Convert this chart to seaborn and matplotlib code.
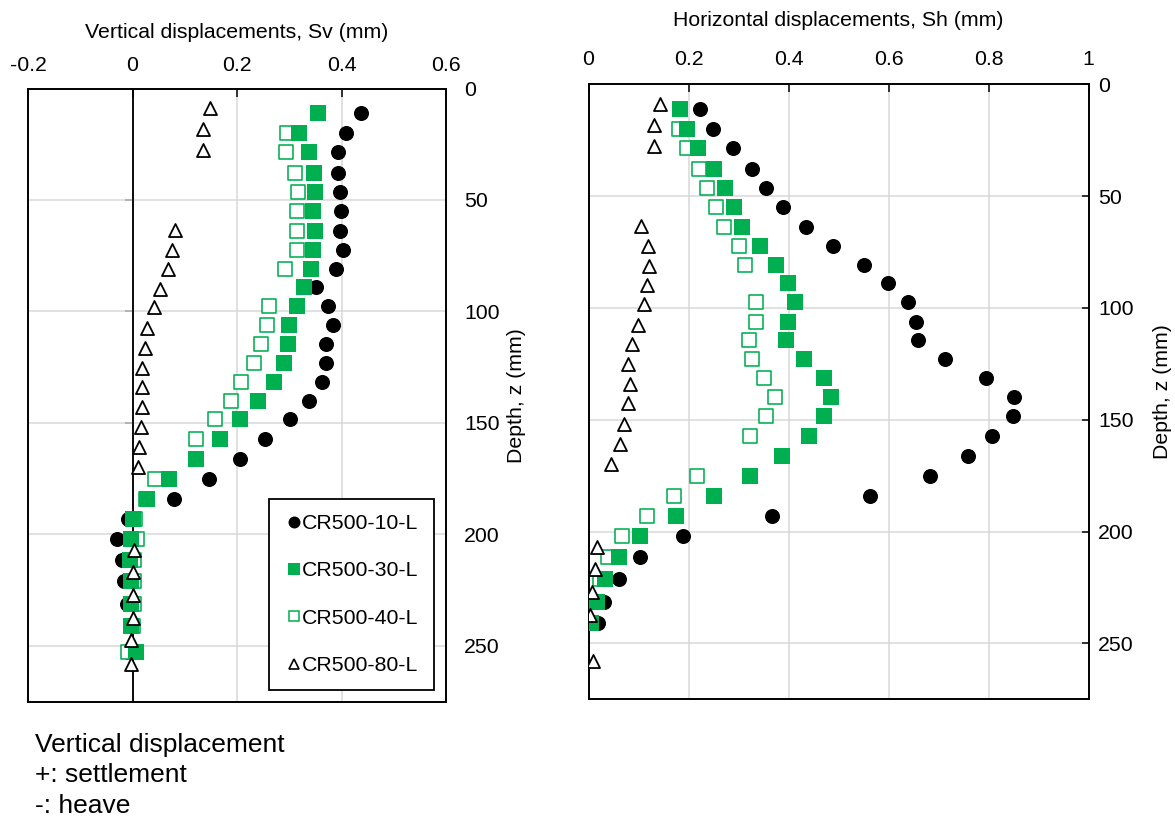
import numpy as np
import matplotlib
matplotlib.use("Agg")
import matplotlib.pyplot as plt
from matplotlib.lines import Line2D
import seaborn as sns

# ---------------------------------------------------------------- data
series_names = ["CR500-10-L", "CR500-30-L", "CR500-40-L", "CR500-80-L"]

# measurement depths (mm) for the 10-L, 30-L and 40-L profiles
depth = [11.0, 20.0, 28.7, 37.7, 46.4, 55.0, 63.7, 72.3, 80.8, 89.1,
         97.5, 106.1, 114.4, 123.0, 131.5, 140.0, 148.4, 157.2, 166.2, 175.2,
         184.2, 193.1, 202.2, 211.5, 221.0, 231.4, 241.0, 252.7]
# measurement depths (mm) for the 80-L profile
depth_80 = [8.8, 18.2, 27.5, 63.4, 72.4, 81.1, 89.9, 98.1, 107.5, 116.2,
            125.2, 134.0, 142.7, 151.7, 160.7, 169.7, 207.0, 216.8, 227.0, 237.3,
            247.4, 257.9]

nan = np.nan

# vertical displacements Sv (mm), + settlement / - heave
sv_10 = [0.438, 0.408, 0.393, 0.394, 0.397, 0.399, 0.397, 0.402, 0.389, 0.352,
         0.374, 0.384, 0.370, 0.370, 0.362, 0.338, 0.301, 0.253, 0.205, 0.146,
         0.080, -0.008, -0.029, -0.021, -0.016, -0.011, -0.005, -0.008]
sv_30 = [0.355, 0.319, 0.337, 0.347, 0.349, 0.346, 0.350, 0.345, 0.341, 0.329,
         0.315, 0.299, 0.297, 0.290, 0.270, 0.241, 0.206, 0.168, 0.121, 0.070,
         0.027, 0.000, -0.002, -0.004, -0.003, -0.002, -0.003, 0.006]
sv_40 = [nan, 0.295, 0.293, 0.311, 0.317, 0.315, 0.315, 0.315, 0.291, nan,
         0.262, 0.257, 0.246, 0.232, 0.207, 0.189, 0.158, 0.121, nan, 0.043,
         0.025, 0.004, 0.008, 0.003, 0.003, 0.003, 0.001, -0.008]
sv_80 = [0.148, 0.134, 0.134, 0.081, 0.076, 0.068, 0.053, 0.041, 0.027, 0.024,
         0.018, 0.018, 0.019, 0.016, 0.013, 0.011, 0.002, 0.001, 0.001, 0.001,
         -0.002, -0.002]

# horizontal displacements Sh (mm)
sh_10 = [0.222, 0.248, 0.288, 0.326, 0.354, 0.389, 0.434, 0.489, 0.550, 0.599,
         0.638, 0.654, 0.659, 0.712, 0.794, 0.850, 0.849, 0.806, 0.758, 0.683,
         0.562, 0.366, 0.188, 0.102, 0.060, 0.031, 0.018, nan]
sh_30 = [0.182, 0.196, 0.218, 0.250, 0.273, 0.290, 0.307, 0.343, 0.374, 0.398,
         0.412, 0.399, 0.394, 0.430, 0.471, 0.485, 0.470, 0.440, 0.387, 0.322,
         0.251, 0.174, 0.102, 0.060, 0.032, 0.016, 0.005, nan]
sh_40 = [nan, 0.180, 0.196, 0.220, 0.236, 0.254, 0.271, 0.300, 0.312, nan,
         0.334, 0.334, 0.320, 0.326, 0.350, 0.372, 0.355, 0.322, nan, 0.217,
         0.171, 0.116, 0.066, 0.038, 0.023, nan, nan, nan]
sh_80 = [0.143, 0.130, 0.130, 0.105, 0.118, 0.120, 0.117, 0.110, 0.098, 0.086,
         0.079, 0.083, 0.079, 0.070, 0.062, 0.044, 0.016, 0.012, 0.006, 0.003,
         nan, 0.009]

sv_ticks = [-0.2, 0, 0.2, 0.4, 0.6]
sv_tick_labels = ["-0.2", "0", "0.2", "0.4", "0.6"]
sh_ticks = [0, 0.2, 0.4, 0.6, 0.8, 1.0]
sh_tick_labels = ["0", "0.2", "0.4", "0.6", "0.8", "1"]
depth_ticks = [0, 50, 100, 150, 200, 250]

# ---------------------------------------------------------------- style
GREEN = "#00B050"
GRID = "#D9D9D9"
FS = 15.3

sns.set_theme(style="white")
plt.rcParams["font.family"] = ["Liberation Sans", "DejaVu Sans"]
plt.rcParams["text.color"] = "black"

W, H = 1175, 823
fig = plt.figure(figsize=(W / 100, H / 100), dpi=100)
fig.patch.set_facecolor("white")


def px_axes(x0, y0, x1, y1):
    """Axes placed by pixel box (left, top, right, bottom)."""
    return fig.add_axes([x0 / W, 1 - y1 / H, (x1 - x0) / W, (y1 - y0) / H])


ax_v = px_axes(28, 88.5, 446, 701.7)
ax_h = px_axes(588.5, 84.2, 1088.5, 699.3)

marker_styles = {
    "CR500-10-L": dict(marker="o", s=117, color="black", edgecolor="black",
                       linewidth=0, zorder=3),
    "CR500-40-L": dict(marker="s", s=88, color="white", edgecolor=GREEN,
                       linewidth=1.15, zorder=4),
    "CR500-30-L": dict(marker="s", s=121, color=GREEN, edgecolor=GREEN,
                       linewidth=0, zorder=5),
    "CR500-80-L": dict(marker="^", s=88, color="white", edgecolor="black",
                       linewidth=1.3, zorder=6),
}

sv_data = {"CR500-10-L": (sv_10, depth), "CR500-30-L": (sv_30, depth),
           "CR500-40-L": (sv_40, depth), "CR500-80-L": (sv_80, depth_80)}
sh_data = {"CR500-10-L": (sh_10, depth), "CR500-30-L": (sh_30, depth),
           "CR500-40-L": (sh_40, depth), "CR500-80-L": (sh_80, depth_80)}

draw_order = ["CR500-10-L", "CR500-40-L", "CR500-30-L", "CR500-80-L"]
for ax, data in ((ax_v, sv_data), (ax_h, sh_data)):
    for name in draw_order:
        xs, ys = data[name]
        sns.scatterplot(x=xs, y=ys, ax=ax, legend=False, **marker_styles[name])

# ---------------------------------------------------------------- axes styling
for ax in (ax_v, ax_h):
    ax.set_ylim(275, 0)
    ax.set_yticks(depth_ticks)
    ax.grid(True, color=GRID, linewidth=1.1)
    ax.set_axisbelow(True)
    for sp in ax.spines.values():
        sp.set_visible(True)
        sp.set_color("black")
        sp.set_linewidth(1.4)
    ax.xaxis.tick_top()
    ax.xaxis.set_label_position("top")
    ax.yaxis.tick_right()
    ax.yaxis.set_label_position("right")
    ax.set_facecolor("white")

ax_v.set_xlim(-0.2, 0.6)
ax_v.set_xticks(sv_ticks, sv_tick_labels)
ax_v.tick_params(axis="x", direction="in", length=6, width=1.1,
                 color="black", labelsize=FS, pad=10, labelcolor="black")
ax_v.tick_params(axis="y", length=0, labelsize=FS, pad=13, labelcolor="black")
ax_v.set_xlabel("Vertical displacements, Sv (mm)", fontsize=FS, labelpad=13,
                color="black")
ax_v.set_ylabel("Depth, z (mm)", fontsize=FS, labelpad=5, color="black")

# vertical axis line through Sv = 0 with outward ticks
ax_v.axvline(0, color="black", linewidth=1.3, zorder=1)
zero_axis = ax_v.secondary_yaxis(0.25)
zero_axis.set_yticks(depth_ticks[1:])
zero_axis.tick_params(axis="y", direction="out", length=6, width=1.1,
                      color="black", labelleft=False, labelright=False)
for sp in zero_axis.spines.values():
    sp.set_color("black")
    sp.set_linewidth(1.3)

ax_h.set_xlim(0, 1)
ax_h.set_xticks(sh_ticks, sh_tick_labels)
ax_h.tick_params(axis="x", direction="in", length=6, width=1.1,
                 color="black", labelsize=FS, pad=11, labelcolor="black")
ax_h.tick_params(axis="y", direction="in", length=5, width=1.1, color="black",
                 labelsize=FS, pad=7, labelcolor="black")
ax_h.set_xlabel("Horizontal displacements, Sh (mm)", fontsize=FS, labelpad=17,
                color="black")
ax_h.set_ylabel("Depth, z (mm)", fontsize=FS, labelpad=14, color="black")

# ---------------------------------------------------------------- legend
legend_handles = [
    Line2D([], [], linestyle="none", marker="o", markersize=8.6,
           markerfacecolor="black", markeredgecolor="black", markeredgewidth=0),
    Line2D([], [], linestyle="none", marker="s", markersize=8.2,
           markerfacecolor=GREEN, markeredgecolor=GREEN, markeredgewidth=0),
    Line2D([], [], linestyle="none", marker="s", markersize=7.2,
           markerfacecolor="white", markeredgecolor=GREEN, markeredgewidth=1.1),
    Line2D([], [], linestyle="none", marker="^", markersize=7.4,
           markerfacecolor="white", markeredgecolor="black", markeredgewidth=1.2),
]
leg = ax_v.legend(legend_handles, series_names, loc="upper left",
                  bbox_to_anchor=(269.3 / W, 1 - 499.3 / H),
                  bbox_transform=fig.transFigure, borderaxespad=0,
                  frameon=True, fancybox=False, shadow=False, framealpha=1,
                  edgecolor="black", facecolor="white", fontsize=FS,
                  handlelength=0.95, handletextpad=-0.1, labelspacing=1.33,
                  borderpad=0.7, labelcolor="black")
leg.get_frame().set_linewidth(1.3)
leg.set_zorder(10)

# ---------------------------------------------------------------- sign note
note_lines = ["Vertical displacement", "+: settlement", "-: heave"]
for i, line in enumerate(note_lines):
    fig.text(35 / W, 1 - (751.7 + 30.8 * i) / H, line, fontsize=19,
             va="baseline", ha="left", color="black")

fig.savefig("out.png", dpi=100, facecolor="white")
